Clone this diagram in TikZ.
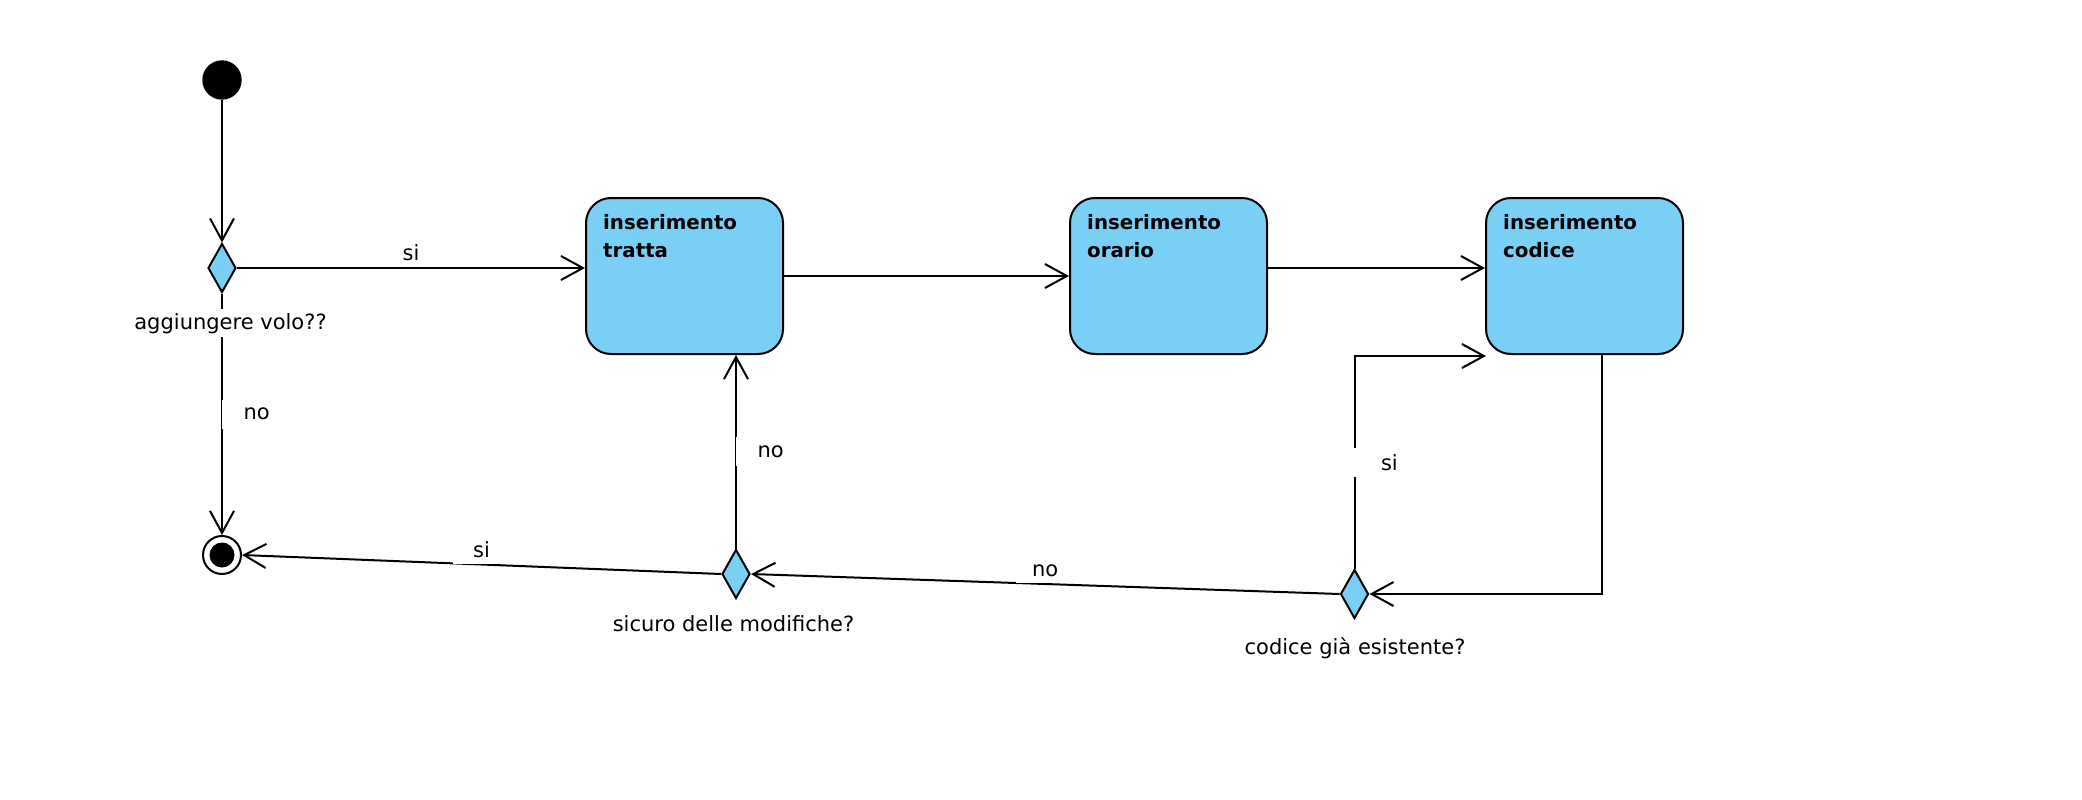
\documentclass[tikz,border=0pt]{standalone}
\usepackage{fontspec}
\setmainfont{DejaVu Sans}
\usetikzlibrary{arrows.meta,shapes.geometric}
\definecolor{nodeblue}{RGB}{122,207,245}
\begin{document}
\begin{tikzpicture}[x=1pt,y=-1pt,
  every node/.style={font=\fontsize{21}{25}\selectfont},
  ln/.style={line width=2pt},
  arr/.style={ln, -{Straight Barb[length=22pt,width=24pt]}},
  state/.style={draw, line width=2pt, fill=nodeblue, rounded corners=25pt,
    minimum width=197pt, minimum height=156pt, inner sep=0pt},
  statetxt/.style={anchor=north west, inner sep=0pt, align=left,
    font=\fontsize{19.8}{28}\selectfont\bfseries},
  decision/.style={draw, line width=2pt, fill=nodeblue, diamond,
    minimum width=28pt, minimum height=49pt, inner sep=0pt},
  initial/.style={circle, fill=black, minimum size=39.4pt, inner sep=0pt},
  final/.style={circle, draw, line width=2pt, fill=white, minimum size=38pt, inner sep=0pt},
  elbl/.style={fill=white, anchor=south, inner xsep=2pt, inner ysep=6pt, minimum width=58pt},
  vlbl/.style={fill=white, anchor=west, inner sep=0pt, minimum height=29pt, xshift=-1.5pt},
  declbl/.style={fill=white, anchor=base, inner xsep=2pt, inner ysep=4pt}
]
\useasboundingbox (0,0) rectangle (2082,800);

% nodes
\node[initial] (start) at (222,80) {};
\node[decision] (d1) at (222,268) {};
\node[final] (end) at (222,555) {};
\fill (end.center) circle (12.5pt);

\node[state, label={[statetxt, label distance=0pt, xshift=18pt, yshift=-17pt]north west:{inserimento\\tratta}}] (b1) at (684.5,276) {};
\node[state, label={[statetxt, label distance=0pt, xshift=18pt, yshift=-17pt]north west:{inserimento\\orario}}] (b2) at (1168.5,276) {};
\node[state, label={[statetxt, label distance=0pt, xshift=18pt, yshift=-17pt]north west:{inserimento\\codice}}] (b3) at (1584.5,276) {};

\node[decision] (d2) at (736,574) {};
\node[decision] (d3) at (1354.5,594) {};

\coordinate (p) at (1486,356);

% connectors
\draw[arr] (start) -- (d1.north);
\draw[arr] (d1.east) -- node[elbl, midway] {si} (d1.east -| b1.west);
\draw[arr] (d1.south) -- node[vlbl, midway] {\hspace{22pt}no} (end.north);
\draw[arr] (b1.east) -- (b2.west);
\draw[arr] ([yshift=8pt]b2.east) -- ([yshift=8pt]b3.west);
\draw[arr] ([xshift=17.5pt]b3.south) |- (d3.east);
\draw[arr] (d3.north) |- node[vlbl, pos=0.25] {\hspace{27pt}si} (p);
\draw[arr] (d3.west) -- node[elbl, midway] {no} (d2.east);
\draw[arr] (d2.north) -- node[vlbl, midway] {\hspace{22pt}no} (d2.north |- b1.south);
\draw[arr] (d2.west) -- node[elbl, midway] {si} (end.east);

% decision labels
\node[declbl] (q1) at (230.5,329) {aggiungere volo??};
\node[declbl] (q2) at (733.5,631) {sicuro delle modifiche?};
\node[declbl] (q3) at (1355,654) {codice già esistente?};
\end{tikzpicture}
\end{document}
